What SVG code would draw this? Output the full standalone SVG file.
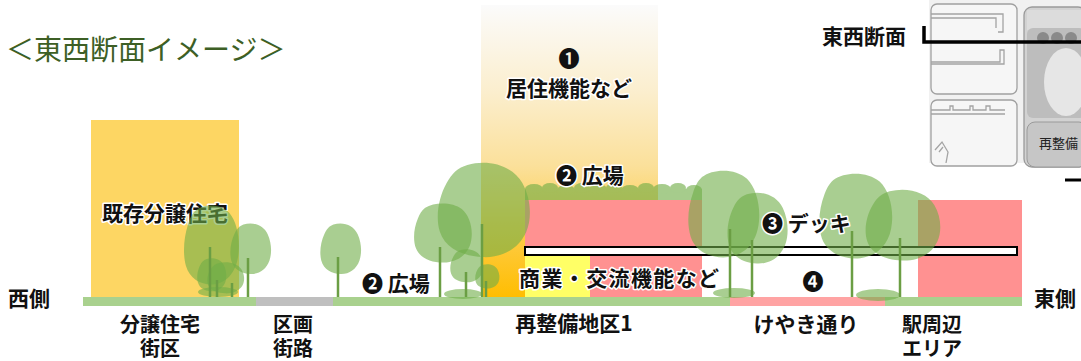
<svg xmlns="http://www.w3.org/2000/svg" xmlns:xlink="http://www.w3.org/1999/xlink" width="1081" height="361" viewBox="0 0 1081 361">
  <defs>
    <style>
      .lbl { font-family: "Noto Sans CJK JP", "DejaVu Sans", sans-serif; font-weight: 700; font-size: 21px; fill: #111; }
      .sub { font-size: 20px; }
      .halo { stroke: #fff; stroke-width: 3px; paint-order: stroke; stroke-linejoin: round; }
      .mid { text-anchor: middle; }
      .crown { fill: #70ad47; fill-opacity: 0.6; }
      .trunk { stroke: #6b9e44; stroke-width: 2.5; fill: none; }
      .ground { fill: #a9d18e; }
      .pink { fill: #ff9191; }
      .map-line { fill: none; stroke: #a4a4a4; stroke-width: 1.3; }
    </style>
    <linearGradient id="towerFill" gradientUnits="userSpaceOnUse" x1="0" y1="5" x2="0" y2="298">
      <stop offset="0" stop-color="#fbfbfb"/>
      <stop offset="0.3" stop-color="#fbeecd"/>
      <stop offset="0.55" stop-color="#fbe09a"/>
      <stop offset="0.75" stop-color="#fdce50"/>
      <stop offset="1" stop-color="#ffbd00"/>
    </linearGradient>
    <!-- tree crown shapes, stretched to each tree's box -->
    <symbol id="crownA" viewBox="0 0 100 100" preserveAspectRatio="none" overflow="visible">
      <path class="crown" d="M32 3C55 -3 80 4 90 22C99 38 100 58 94 72C86 90 68 99 48 98C28 97 9 90 3 72C-2 56 2 36 10 22C16 11 22 6 32 3Z"/>
    </symbol>
    <symbol id="crownB" viewBox="0 0 100 100" preserveAspectRatio="none" overflow="visible">
      <path class="crown" d="M20 8C35 -2 65 -2 80 10C92 20 98 40 96 58C94 80 80 96 55 99C35 101 12 94 5 76C-1 60 2 40 8 26C11 18 14 13 20 8Z"/>
    </symbol>
  </defs>

  <!-- title -->
  <text x="6" y="60" font-family="'Noto Sans CJK JP', 'DejaVu Sans', sans-serif" font-size="28" fill="#3d5f25">＜東西断面イメージ＞</text>

  <!-- key map, top right -->
  <g id="keymap">
    <rect x="929" y="0" width="152" height="163" fill="#f1f1f1"/>
    <rect x="931" y="4" width="86" height="90" rx="6" fill="#f6f6f6" stroke="#a0a0a0" stroke-width="1.3"/>
    <path class="map-line" d="M931 14H1003V32H998M931 18H996V28"/>
    <path class="map-line" d="M931 62H1000V50H1004V64H931"/>
    <rect x="931" y="100" width="86" height="66" rx="6" fill="#f6f6f6" stroke="#a0a0a0" stroke-width="1.3"/>
    <path class="map-line" d="M931 110H950V106H953V110H970V106H973V110H986V106H990V110H1005M931 114H1005"/>
    <path class="map-line" d="M935 150L942 142L948 152L946 163M939 152L943 147"/>
    <rect x="1024" y="7" width="62" height="160" rx="8" fill="#d2d2d2" stroke="#9a9a9a" stroke-width="1.3"/>
    <rect x="1027" y="10" width="58" height="20" fill="#dcdcdc"/>
    <rect x="1027" y="28" width="58" height="90" rx="6" fill="#bdbdbd"/>
    <circle cx="1043" cy="38" r="6" fill="#8a8a8a"/>
    <circle cx="1057" cy="38" r="6" fill="#8a8a8a"/>
    <circle cx="1071" cy="38" r="6" fill="#8a8a8a"/>
    <ellipse cx="1066" cy="82" rx="22" ry="34" fill="#e6e6e6"/>
    <rect x="1027" y="122" width="60" height="45" rx="8" fill="#c6c6c6" stroke="#9a9a9a" stroke-width="1"/>
    <text x="1039" y="148" font-family="'Noto Sans CJK JP', sans-serif" font-size="13" fill="#222">再整備</text>
  </g>

  <!-- section line marker -->
  <g id="section-marker">
    <text class="lbl" x="822" y="44">東西断面</text>
    <path d="M924 26V42H1081" fill="none" stroke="#000" stroke-width="3.5"/>
    <path d="M1065 180H1081" fill="none" stroke="#000" stroke-width="3"/>
  </g>

  <!-- buildings -->
  <g id="tower">
    <rect x="481" y="5" width="177" height="293" fill="url(#towerFill)"/>
  </g>
  <g id="housing">
    <rect x="91" y="120" width="148" height="177" fill="#fdd663"/>
  </g>
  <g id="commercial">
    <rect class="pink" x="525" y="200" width="177" height="48"/>
    <rect x="525" y="255" width="65" height="43" fill="#ffff66"/>
    <rect class="pink" x="590" y="255" width="112" height="43"/>
  </g>
  <g id="station-area">
    <rect class="pink" x="918" y="200" width="104" height="97"/>
  </g>

  <!-- pedestrian deck -->
  <g id="deck">
    <rect x="525" y="247" width="492" height="8" fill="#fff" stroke="#000" stroke-width="2"/>
  </g>

  <!-- ground -->
  <g id="ground">
    <rect class="ground" x="83" y="297" width="939" height="9"/>
    <rect x="256" y="297" width="77" height="9" fill="#bfbfbf"/>
    <rect x="730" y="297" width="155" height="9" fill="#ffa3a3"/>
  </g>

  <text class="lbl halo" x="102" y="221">既存分譲住宅</text>

  <!-- rooftop plaza planting -->
  <g id="roof-hedge" opacity="0.62" fill="#70ad47">
    <rect x="525" y="189" width="177" height="11"/>
    <ellipse cx="534" cy="189" rx="9" ry="5"/>
    <ellipse cx="550" cy="188" rx="8" ry="5"/>
    <ellipse cx="566" cy="190" rx="9" ry="5"/>
    <ellipse cx="582" cy="188" rx="8" ry="5"/>
    <ellipse cx="598" cy="189" rx="9" ry="5"/>
    <ellipse cx="614" cy="188" rx="8" ry="5"/>
    <ellipse cx="630" cy="190" rx="9" ry="5"/>
    <ellipse cx="646" cy="188" rx="8" ry="5"/>
    <ellipse cx="662" cy="189" rx="9" ry="5"/>
    <ellipse cx="678" cy="188" rx="8" ry="5"/>
    <ellipse cx="694" cy="190" rx="8" ry="5"/>
  </g>

  <!-- trees -->
  <g id="trees">
    <use href="#crownB" x="183" y="205" width="58" height="80"/>
    <use href="#crownA" x="197" y="258" width="30" height="34"/>
    <use href="#crownA" x="207" y="262" width="38" height="32"/>
    <ellipse class="crown" cx="218" cy="292" rx="20" ry="5"/>
    <use href="#crownA" x="230" y="223" width="42" height="52"/>
    <use href="#crownA" x="320" y="223" width="42" height="52"/>
    <use href="#crownB" x="413" y="203" width="61" height="60"/>
    <use href="#crownA" x="437" y="162" width="95" height="97"/>
    <use href="#crownA" x="450" y="249" width="34" height="34"/>
    <use href="#crownA" x="475" y="264" width="25" height="25"/>
    <ellipse class="crown" cx="463" cy="294" rx="19" ry="5"/>
    <use href="#crownB" x="687" y="170" width="75" height="88"/>
    <use href="#crownA" x="727" y="192" width="62" height="73"/>
    <ellipse class="crown" cx="734" cy="293" rx="21" ry="5"/>
    <use href="#crownB" x="818" y="173" width="77" height="86"/>
    <use href="#crownA" x="865" y="189" width="77" height="73"/>
    <ellipse class="crown" cx="878" cy="295" rx="22" ry="6"/>
    <path class="trunk" d="M210 247V297M217 280V297M232 283V297M248 258V297M338 257V297M440 247V297M482 224V297M466 272V297M486 281V297M730 229V297M752 240V297M852 231V297M900 238V297"/>
  </g>

  <!-- labels inside the section -->
  <g id="labels">
    <text class="lbl mid" x="569" y="66" font-size="22">❶</text>
    <text class="lbl halo mid" x="569" y="96">居住機能など</text>
    <text class="lbl halo" x="556" y="183">❷ 広場</text>
    <text class="lbl halo" x="362" y="291">❷ 広場</text>
    <text class="lbl halo" x="519" y="286" font-size="22" textLength="200" lengthAdjust="spacing">商業・交流機能など</text>
    <text class="lbl halo" x="762" y="231">❸ デッキ</text>
    <text class="lbl mid" x="813" y="289" font-size="22">❹</text>
    <text class="lbl" x="8" y="306">西側</text>
    <text class="lbl" x="1034" y="306">東側</text>
  </g>

  <!-- zone names under the ground line -->
  <g id="zones">
    <text class="lbl sub mid" x="160" y="332">分譲住宅</text>
    <text class="lbl sub mid" x="160" y="356">街区</text>
    <text class="lbl sub mid" x="293" y="332">区画</text>
    <text class="lbl sub mid" x="293" y="356">街路</text>
    <text class="lbl mid" x="574" y="331">再整備地区1</text>
    <text class="lbl mid" x="806" y="332">けやき通り</text>
    <text class="lbl sub mid" x="932" y="332">駅周辺</text>
    <text class="lbl sub mid" x="932" y="356">エリア</text>
  </g>
</svg>
